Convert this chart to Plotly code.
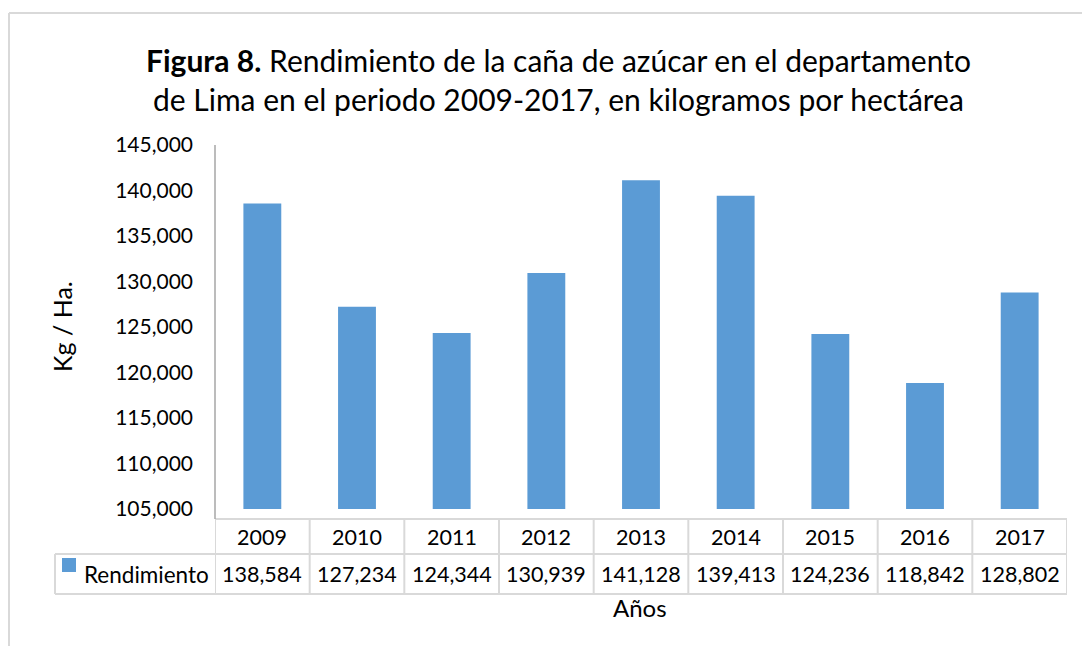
import plotly.graph_objects as go

# ---- data ----
years = [2009, 2010, 2011, 2012, 2013, 2014, 2015, 2016, 2017]
rendimiento = [138584, 127234, 124344, 130939, 141128, 139413, 124236, 118842, 128802]
series_name = "Rendimiento"
y_ticks = [105000, 110000, 115000, 120000, 125000, 130000, 135000, 140000, 145000]
title_bold = "Figura 8."
title_rest = " Rendimiento de la caña de azúcar en el departamento<br>de Lima en el periodo 2009-2017, en kilogramos por hectárea"
x_title = "Años"
y_title = "Kg / Ha."

# ---- layout constants (pixels) ----
W, H = 1082, 646
FONT = "Lato"
BAR = "#5B9BD5"
GRID = "#D9D9D9"
AXIS = "#A6A6A6"

def px(x):
    return x / W

def py(y):
    return 1 - y / H

base = y_ticks[0]
top = y_ticks[-1]
plot_left, plot_right = 215, 1067
plot_top, val_bottom, axis_bottom = 145, 509, 519
units_per_px = (top - base) / (val_bottom - plot_top)
range_min = base - (axis_bottom - val_bottom) * units_per_px

fig = go.Figure()
fig.add_trace(go.Bar(
    x=years,
    y=[v - base for v in rendimiento],
    base=base,
    width=0.4,
    marker=dict(color=BAR, line=dict(width=0)),
    name=series_name,
    customdata=rendimiento,
    hovertemplate="%{x}: %{customdata:,}<extra></extra>",
))

fig.update_layout(
    width=W, height=H,
    autosize=False,
    margin=dict(l=0, r=0, t=0, b=0, pad=0, autoexpand=False),
    paper_bgcolor="white", plot_bgcolor="white",
    showlegend=False,
    font=dict(family=FONT, color="#000000"),
    xaxis=dict(
        domain=[px(plot_left), px(plot_right)],
        range=[years[0] - 0.5, years[-1] + 0.5],
        showticklabels=False, showgrid=False, zeroline=False, showline=False,
        fixedrange=True, automargin=False,
    ),
    yaxis=dict(
        domain=[py(axis_bottom), py(plot_top)],
        range=[range_min, top],
        tickvals=y_ticks,
        tickformat=",",
        tickfont=dict(size=21, family=FONT, color="#000000"),
        ticks="", ticklabelstandoff=21,
        showgrid=False, zeroline=False, showline=False,
        fixedrange=True, automargin=False,
    ),
)

shapes = []
line = dict(color=GRID, width=2)
# outer chart frame
shapes.append(dict(type="line", xref="paper", yref="paper", x0=px(9), x1=px(W + 5), y0=py(13), y1=py(13), line=line))
shapes.append(dict(type="line", xref="paper", yref="paper", x0=px(9), x1=px(9), y0=py(13), y1=py(H + 5), line=line))

# data table grid
row_top, row_mid, row_bot = axis_bottom, 554, 594
table_left = 55
shapes.append(dict(type="line", xref="paper", yref="paper", x0=px(plot_left), x1=px(plot_right), y0=py(row_top), y1=py(row_top), line=line))
for yy in (row_mid, row_bot):
    shapes.append(dict(type="line", xref="paper", yref="paper", x0=px(table_left), x1=px(plot_right), y0=py(yy), y1=py(yy), line=line))
shapes.append(dict(type="line", xref="paper", yref="paper", x0=px(table_left), x1=px(table_left), y0=py(row_mid), y1=py(row_bot), line=line))
for yr in years + [years[-1] + 1]:
    shapes.append(dict(type="line", xref="x", yref="paper", x0=yr - 0.5, x1=yr - 0.5, y0=py(row_top), y1=py(row_bot), line=line))
# vertical axis line
shapes.append(dict(type="line", xref="paper", yref="paper", x0=px(plot_left), x1=px(plot_left), y0=py(plot_top), y1=py(axis_bottom), line=dict(color=AXIS, width=1.5)))
# legend key
shapes.append(dict(type="rect", xref="paper", yref="paper", x0=px(62), x1=px(76), y0=py(558), y1=py(572), fillcolor=BAR, line=dict(width=0)))
fig.update_layout(shapes=shapes)

ann = []
cell_font = dict(size=21.5, family=FONT, color="#000000")
for yr, v in zip(years, rendimiento):
    ann.append(dict(x=yr, xref="x", y=py((row_top + row_mid) / 2), yref="paper", text=str(yr), showarrow=False, font=cell_font, xanchor="center", yanchor="middle"))
    ann.append(dict(x=yr, xref="x", y=py((row_mid + row_bot) / 2), yref="paper", text=f"{v:,}", showarrow=False, font=cell_font, xanchor="center", yanchor="middle"))
ann.append(dict(x=px(82), xref="paper", y=py((row_mid + row_bot) / 2), yref="paper", text=series_name, showarrow=False, font=dict(size=22.5, family=FONT, color="#000000"), xanchor="left", yanchor="middle"))
ann.append(dict(x=px(640), xref="paper", y=py(607), yref="paper", text=x_title, showarrow=False, font=dict(size=24, family=FONT, color="#000000"), xanchor="center", yanchor="middle"))
ann.append(dict(x=px(62), xref="paper", y=py(326), yref="paper", text=y_title, textangle=-90, showarrow=False, font=dict(size=25, family=FONT, color="#000000"), xanchor="center", yanchor="middle"))
ann.append(dict(x=px(558), xref="paper", y=py(80), yref="paper", text=f"<b>{title_bold}</b>{title_rest}", showarrow=False, font=dict(size=30, family=FONT, color="#000000"), xanchor="center", yanchor="middle", align="center"))
fig.update_layout(annotations=ann)

fig.write_html(
    "out.html",
    config={"displayModeBar": False},
    post_script="document.body.style.margin='0';document.body.style.padding='0';",
)
